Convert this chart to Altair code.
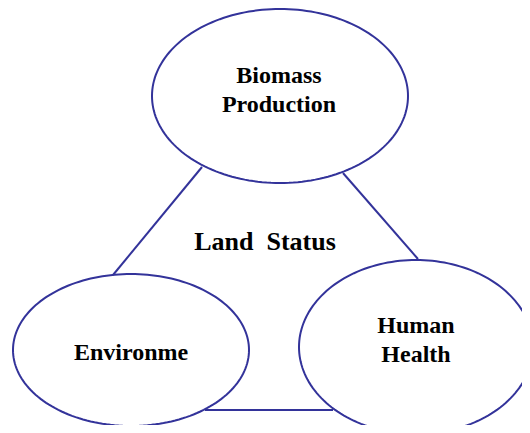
import altair as alt
import numpy as np
import pandas as pd

# Nodes of the diagram
node_names = ["Biomass Production", "Environme", "Human Health"]
node_cx = [280, 131, 416]
node_cy = [96, 350, 347]
node_rx = [128, 118, 117]
node_ry = [87, 76, 87]

# Labels (each line separately)
label_text = ["Biomass", "Production", "Environme", "Human", "Health", "Land\u00a0\u00a0Status"]
label_x = [279, 279, 131, 416, 416, 265]
label_y = [83, 112, 360, 333, 362, 250]
label_size = [24, 24, 24, 24, 24, 26]

# Connectors
link_x1 = [202, 343, 205]
link_y1 = [167, 173, 410]
link_x2 = [113, 418, 333]
link_y2 = [275, 259, 410]

STROKE = "#33339a"
FONT = "Liberation Serif"

rows = []
angles = np.linspace(0, 2 * np.pi, 181)
for name, cx, cy, rx, ry in zip(node_names, node_cx, node_cy, node_rx, node_ry):
    for i, a in enumerate(angles):
        rows.append({"node": name, "i": i, "x": cx + rx * np.cos(a), "y": cy + ry * np.sin(a)})
ell_df = pd.DataFrame(rows)

lab_df = pd.DataFrame({"text": label_text, "x": label_x, "y": label_y, "size": label_size})
link_df = pd.DataFrame({"x": link_x1, "y": link_y1, "x2": link_x2, "y2": link_y2})

xs = alt.Scale(domain=[8, 522], nice=False, zero=False)
ys = alt.Scale(domain=[8, 425], nice=False, zero=False, reverse=True)

ellipses = alt.Chart(ell_df).mark_line(color=STROKE, strokeWidth=2).encode(
    x=alt.X("x:Q", scale=xs, axis=None),
    y=alt.Y("y:Q", scale=ys, axis=None),
    detail="node:N",
    order="i:Q",
)

links = alt.Chart(link_df).mark_rule(color=STROKE, strokeWidth=2).encode(
    x=alt.X("x:Q", scale=xs, axis=None),
    y=alt.Y("y:Q", scale=ys, axis=None),
    x2="x2:Q",
    y2="y2:Q",
)

labels = alt.Chart(lab_df).mark_text(
    font=FONT, fontWeight="bold", color="black", baseline="alphabetic", align="center"
).encode(
    x=alt.X("x:Q", scale=xs, axis=None),
    y=alt.Y("y:Q", scale=ys, axis=None),
    text="text:N",
    size=alt.Size("size:Q", scale=None, legend=None),
)

chart = (
    alt.layer(links, ellipses, labels)
    .properties(width=514, height=417, autosize=alt.AutoSizeParams(type="none"),
                padding=0, background="white")
    .configure_view(stroke=None)
)

chart.save("out.html", embed_options={"renderer": "svg", "actions": False})
